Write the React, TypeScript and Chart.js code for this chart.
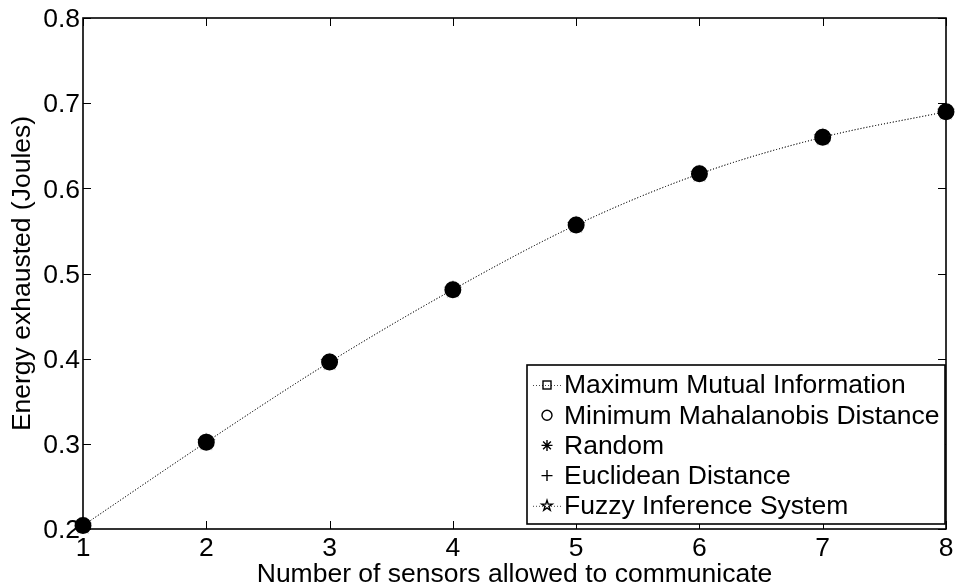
import { useEffect, useRef } from "react";
import { Chart, registerables } from "chart.js";

Chart.register(...registerables);

// Number of sensors on the x axis
const sensorCounts = [1, 2, 3, 4, 5, 6, 7, 8];

// Energy exhausted (Joules) per selection strategy
const maxMutualInfo = [0.204, 0.302, 0.396, 0.481, 0.557, 0.617, 0.66, 0.69];
const minMahalanobis = [0.204, 0.302, 0.396, 0.481, 0.557, 0.617, 0.66, 0.69];
const randomSel = [0.204, 0.302, 0.396, 0.481, 0.557, 0.617, 0.66, 0.69];
const euclidean = [0.204, 0.302, 0.396, 0.481, 0.557, 0.617, 0.66, 0.69];
const fuzzyInference = [0.204, 0.302, 0.396, 0.481, 0.557, 0.617, 0.66, 0.69];

const seriesLabels = [
  "Maximum Mutual Information",
  "Minimum Mahalanobis Distance",
  "Random",
  "Euclidean Distance",
  "Fuzzy Inference System",
];

const xTickValues = [1, 2, 3, 4, 5, 6, 7, 8];
const yTickValues = [0.2, 0.3, 0.4, 0.5, 0.6, 0.7, 0.8];

const FONT = '"Liberation Sans", Arial, Helvetica, sans-serif';
const FONT_SIZE = 26.5;
const INK = "#000000";

type Marker = "square" | "circle" | "asterisk" | "plus" | "pentagram";
const markers: Marker[] = ["square", "circle", "asterisk", "plus", "pentagram"];
const dotted = [true, false, false, false, true];

function tracePentagram(ctx: CanvasRenderingContext2D, cx: number, cy: number, r: number) {
  const inner = r * 0.382;
  ctx.beginPath();
  for (let i = 0; i < 10; i++) {
    const rad = i % 2 === 0 ? r : inner;
    const a = -Math.PI / 2 + (i * Math.PI) / 5;
    const px = cx + rad * Math.cos(a);
    const py = cy + rad * Math.sin(a);
    if (i === 0) ctx.moveTo(px, py);
    else ctx.lineTo(px, py);
  }
  ctx.closePath();
}

function drawMarker(ctx: CanvasRenderingContext2D, kind: Marker, x: number, y: number, r: number, lw: number) {
  ctx.save();
  ctx.strokeStyle = INK;
  ctx.lineWidth = lw;
  ctx.setLineDash([]);
  if (kind === "square") {
    ctx.strokeRect(x - r, y - r, 2 * r, 2 * r);
  } else if (kind === "circle") {
    ctx.beginPath();
    ctx.arc(x, y, r, 0, Math.PI * 2);
    ctx.stroke();
  } else if (kind === "plus") {
    ctx.beginPath();
    ctx.moveTo(x - r, y);
    ctx.lineTo(x + r, y);
    ctx.moveTo(x, y - r);
    ctx.lineTo(x, y + r);
    ctx.stroke();
  } else if (kind === "asterisk") {
    ctx.beginPath();
    for (let i = 0; i < 4; i++) {
      const a = (i * Math.PI) / 4;
      ctx.moveTo(x - r * Math.cos(a), y - r * Math.sin(a));
      ctx.lineTo(x + r * Math.cos(a), y + r * Math.sin(a));
    }
    ctx.stroke();
  } else {
    tracePentagram(ctx, x, y, r);
    ctx.stroke();
  }
  ctx.restore();
}

function pentagramImage(r: number, lw: number): HTMLCanvasElement {
  const size = Math.ceil(2 * r + 2 * lw + 2);
  const c = document.createElement("canvas");
  c.width = size;
  c.height = size;
  const ctx = c.getContext("2d")!;
  ctx.fillStyle = INK;
  tracePentagram(ctx, size / 2, size / 2, r);
  ctx.fill();
  ctx.strokeStyle = INK;
  ctx.lineWidth = lw;
  ctx.stroke();
  return c;
}

// Box frame with inward tick marks on all four sides
const framePlugin = {
  id: "frame",
  beforeDatasetsDraw(chart: any) {
    const { ctx, chartArea } = chart;
    const { left, right, top, bottom } = chartArea;
    const xs = chart.scales.x;
    const ys = chart.scales.y;
    const tl = 8;
    ctx.save();
    ctx.strokeStyle = INK;
    ctx.lineWidth = 1;
    ctx.beginPath();
    xTickValues.forEach((v) => {
      const px = Math.round(xs.getPixelForValue(v)) + 0.5;
      ctx.moveTo(px, bottom);
      ctx.lineTo(px, bottom - tl);
      ctx.moveTo(px, top);
      ctx.lineTo(px, top + tl);
    });
    yTickValues.forEach((v) => {
      const py = Math.round(ys.getPixelForValue(v)) + 0.5;
      ctx.moveTo(left, py);
      ctx.lineTo(left + tl, py);
      ctx.moveTo(right, py);
      ctx.lineTo(right - tl, py);
    });
    ctx.stroke();
    ctx.lineWidth = 1.6;
    ctx.strokeRect(left, top, right - left, bottom - top);
    ctx.restore();
  },
};

// Boxed legend inside the lower-right corner of the plot
const legendPlugin = {
  id: "boxLegend",
  afterDraw(chart: any) {
    const { ctx, chartArea } = chart;
    const w = 418;
    const h = 159;
    const x0 = chartArea.right - w - 1;
    const y0 = chartArea.bottom - h - 5;
    ctx.save();
    ctx.fillStyle = "#ffffff";
    ctx.fillRect(x0, y0, w, h);
    ctx.strokeStyle = INK;
    ctx.lineWidth = 1.6;
    ctx.strokeRect(x0, y0, w, h);
    ctx.font = `${FONT_SIZE}px ${FONT}`;
    ctx.textBaseline = "middle";
    ctx.textAlign = "left";
    ctx.fillStyle = INK;
    seriesLabels.forEach((label, i) => {
      const ry = y0 + 20 + i * 30.2;
      if (dotted[i]) {
        ctx.save();
        ctx.strokeStyle = "#444";
        ctx.lineWidth = 1;
        ctx.setLineDash([1, 2]);
        ctx.beginPath();
        ctx.moveTo(x0 + 6, ry + 0.5);
        ctx.lineTo(x0 + 34, ry + 0.5);
        ctx.stroke();
        ctx.restore();
      }
      const r = markers[i] === "square" ? 4 : markers[i] === "circle" ? 5 : 5.5;
      drawMarker(ctx, markers[i], x0 + 20, ry, r, 1.4);
      ctx.fillText(label, x0 + 37, ry + 1);
    });
    ctx.restore();
  },
};

const seriesValues = [maxMutualInfo, minMahalanobis, randomSel, euclidean, fuzzyInference];

export default function App() {
  const canvasRef = useRef<HTMLCanvasElement | null>(null);

  useEffect(() => {
    const canvas = canvasRef.current;
    if (!canvas) return;
    const star = pentagramImage(7.5, 1.2);
    const pointStyles: any[] = ["rect", "circle", "star", "cross", star];

    const datasets = seriesValues.map((vals, i) => ({
      label: seriesLabels[i],
      data: sensorCounts.map((x, k) => ({ x, y: vals[k] })),
      showLine: dotted[i],
      borderColor: "#333333",
      borderWidth: 1,
      borderDash: [1, 2],
      cubicInterpolationMode: "monotone" as const,
      pointStyle: pointStyles[i],
      pointRadius: i === 1 ? 7.5 : 7,
      pointBorderWidth: 2,
      pointBorderColor: INK,
      pointBackgroundColor: i === 1 || i === 0 ? INK : "rgba(0,0,0,0)",
      clip: false as const,
    }));

    const tickFont = { family: FONT, size: FONT_SIZE };

    const chart = new Chart(canvas, {
      type: "scatter",
      data: { datasets: datasets as any },
      options: {
        animation: false,
        responsive: false,
        devicePixelRatio: 1,
        layout: { padding: { top: 18, right: 10, left: 0, bottom: 0 } },
        plugins: { legend: { display: false }, tooltip: { enabled: false } },
        scales: {
          x: {
            type: "linear",
            min: 1,
            max: 8,
            afterBuildTicks: (s: any) => {
              s.ticks = xTickValues.map((value) => ({ value }));
            },
            ticks: { font: tickFont, color: INK, padding: 4, maxRotation: 0 },
            grid: { display: false, drawTicks: false },
            border: { display: false },
            title: {
              display: true,
              text: "Number of sensors allowed to communicate",
              font: { family: FONT, size: FONT_SIZE, lineHeight: 1 },
              color: INK,
              padding: { top: 0, bottom: 0 },
            },
            afterFit: (s: any) => {
              s.height = 59;
              s.paddingLeft = 0;
              s.paddingRight = 0;
            },
          },
          y: {
            type: "linear",
            min: 0.2,
            max: 0.8,
            afterBuildTicks: (s: any) => {
              s.ticks = yTickValues.map((value) => ({ value }));
            },
            ticks: {
              font: tickFont,
              color: INK,
              padding: 3,
              labelOffset: 2,
              callback: (v: any) => Number(v).toFixed(1),
            },
            grid: { display: false, drawTicks: false },
            border: { display: false },
            title: {
              display: true,
              text: "Energy exhausted (Joules)",
              font: { family: FONT, size: FONT_SIZE, lineHeight: 1 },
              color: INK,
              padding: { top: 9, bottom: 0 },
            },
            afterFit: (s: any) => {
              s.width = 83;
              s.paddingTop = 0;
              s.paddingBottom = 0;
            },
          },
        },
      },
      plugins: [framePlugin, legendPlugin],
    });
    return () => chart.destroy();
  }, []);

  return (
    <div style={{ position: "fixed", left: 0, top: 0, width: 956, height: 588, background: "#fff" }}>
      <canvas ref={canvasRef} width={956} height={588} style={{ display: "block" }} />
    </div>
  );
}
